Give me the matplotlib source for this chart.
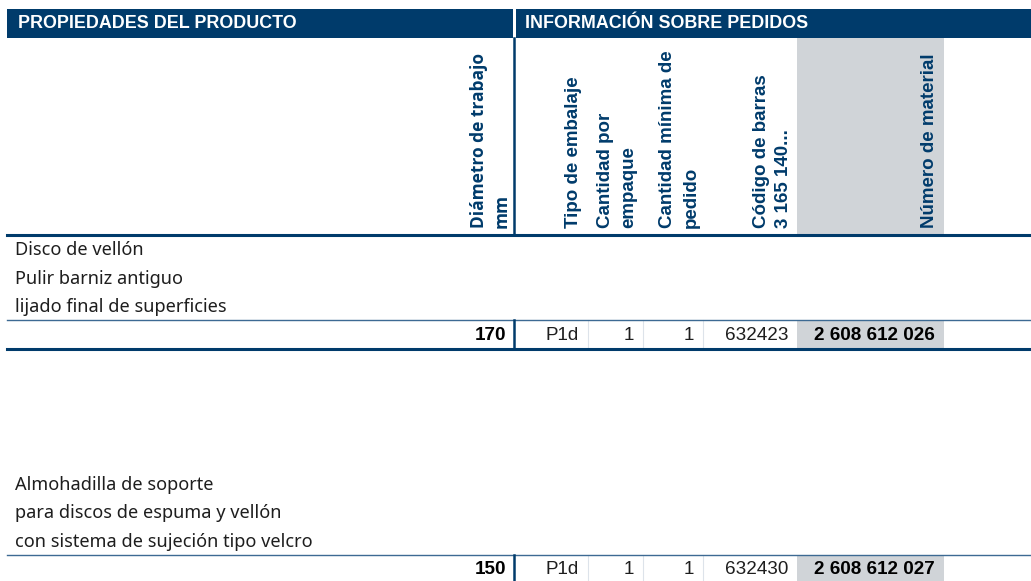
import matplotlib
matplotlib.use("Agg")
import matplotlib.pyplot as plt
from matplotlib.patches import Rectangle

# Table content
header_left = "PROPIEDADES DEL PRODUCTO"
header_right = "INFORMACIÓN SOBRE PEDIDOS"
col_labels = [
    ["Diámetro de trabajo", "mm"],
    ["Tipo de embalaje"],
    ["Cantidad por", "empaque"],
    ["Cantidad mínima de", "pedido"],
    ["Código de barras", "3 165 140..."],
    ["Número de material"],
]
descriptions = [
    ["Disco de vellón", "Pulir barniz antiguo", "lijado final de superficies"],
    ["Almohadilla de soporte", "para discos de espuma y vellón",
     "con sistema de sujeción tipo velcro"],
]
diameters = ["170", "150"]
pack_types = ["P1d", "P1d"]
qty_pack = ["1", "1"]
min_order = ["1", "1"]
barcodes = ["632423", "632430"]
materials = ["2 608 612 026", "2 608 612 027"]

# Layout (pixel space)
W, H = 1031, 581
NAVY = "#003b6b"
GRAY = "#d0d4d8"
THIN = "#3d6a93"
SEP = "#dde3ea"
X0 = 7
VX = 514
col_edges = [514, 588, 643, 703, 797, 944]
label_x = [[479, 502], [574], [606, 629], [667, 691], [761, 783], [929]]
label_font = ["Open Sans", "Liberation Sans", "Liberation Sans",
              "Liberation Sans", "Liberation Sans", "Liberation Sans"]
label_size = [12.5, 13.5, 13.5, 13.5, 13.5, 13.5]
desc_y = [[250, 279, 307], [485, 513, 542]]
row_top = [320, 555]
row_mid = [335.5, 570]
row_bot = [349, 581]

fig = plt.figure(figsize=(W / 100, H / 100), dpi=100)
ax = fig.add_axes([0, 0, 1, 1])
ax.set_xlim(0, W)
ax.set_ylim(H, 0)
ax.axis("off")

# header bands
ax.add_patch(Rectangle((X0, 9), 513 - X0, 29, color=NAVY, lw=0))
ax.add_patch(Rectangle((516, 9), W - 516, 29, color=NAVY, lw=0))
ax.text(18, 24, header_left, color="white", fontsize=12.9, fontweight="bold",
        family="Liberation Sans", va="center", ha="left")
ax.text(525, 24, header_right, color="white", fontsize=12.9, fontweight="bold",
        family="Liberation Sans", va="center", ha="left")

# column header area
ax.add_patch(Rectangle((col_edges[4], 38), col_edges[5] - col_edges[4], 196,
                       color=GRAY, lw=0))
ax.plot([VX, VX], [38, 234], color=NAVY, lw=1.8)
ax.plot([X0, W], [234.5, 234.5], color=NAVY, lw=2.2)

for lines, xs, fam, fs in zip(col_labels, label_x, label_font, label_size):
    for txt, x in zip(lines, xs):
        ax.text(x, 228, txt, rotation=90, ha="center", va="bottom",
                color=NAVY, fontsize=fs, fontweight="bold", family=fam)

# product rows
for i in range(len(descriptions)):
    for txt, y in zip(descriptions[i], desc_y[i]):
        ax.text(15, y, txt, ha="left", va="center", fontsize=13.1,
                family="Noto Sans", color="#1e1e1e")
    top, mid, bot = row_top[i], row_mid[i], row_bot[i]
    ax.add_patch(Rectangle((col_edges[4], top), col_edges[5] - col_edges[4],
                           bot - top, color=GRAY, lw=0))
    for x in col_edges[1:4]:
        ax.plot([x, x], [top, bot], color=SEP, lw=0.8)
    ax.plot([X0, W], [top, top], color=THIN, lw=1.0)
    if bot < H:
        ax.plot([X0, W], [bot, bot], color=NAVY, lw=2.2)
    ax.plot([VX, VX], [top, bot], color=NAVY, lw=1.8)

    ax.text(VX - 8, mid, diameters[i], ha="right", va="center",
            fontsize=13.6, fontweight="bold", family="Liberation Sans")
    vals = [pack_types[i], qty_pack[i], min_order[i], barcodes[i]]
    for v, xr in zip(vals, col_edges[1:5]):
        ax.text(xr - 9, mid, v, ha="right", va="center", fontsize=13.6,
                family="Liberation Sans", color="#1e1e1e")
    ax.text(col_edges[5] - 9, mid, materials[i], ha="right", va="center",
            fontsize=13.6, fontweight="bold", family="Liberation Sans")

fig.savefig("out.png", dpi=100)
